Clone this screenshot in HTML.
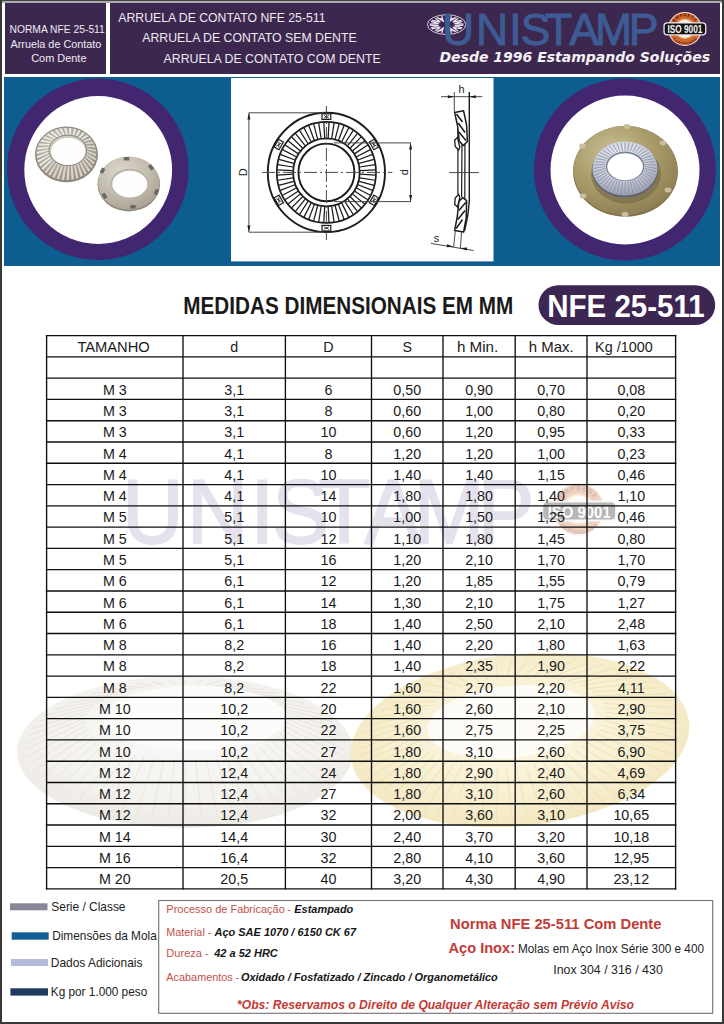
<!DOCTYPE html>
<html><head><meta charset="utf-8">
<style>
html,body{margin:0;padding:0;}
body{width:724px;height:1024px;position:relative;overflow:hidden;background:#fff;font-family:"Liberation Sans",Arial,sans-serif;}
.abs{position:absolute;}
.tbl line{stroke:#0e0e0e;stroke-width:1.35;}
.tbl text{font-family:"Liberation Sans",Arial,sans-serif;font-size:14.3px;fill:#1a1a1a;text-anchor:middle;}
</style></head><body>
<div class="abs" style="left:0;top:0;width:724px;height:1.1px;background:#47473f"></div>
<div class="abs" style="left:0;top:1.1px;width:724px;height:1.9px;background:#aca9b1"></div>
<div class="abs" style="left:0;top:0;width:1.6px;height:1024px;background:#383838"></div>
<div class="abs" style="left:722.4px;top:0;width:1.6px;height:1024px;background:#383838"></div>
<div class="abs" style="left:0;top:1022px;width:724px;height:2px;background:#383838"></div>
<div class="abs" style="left:5.2px;top:2.95px;width:100.8px;height:71.25px;background:#3c284e"></div>
<div class="abs" style="left:109.8px;top:2.95px;width:610.2px;height:71.25px;background:#3c284e"></div>
<div class="abs" style="left:4px;top:77px;width:716px;height:188.6px;background:#0e5d91"></div>
<svg class="abs" style="left:0;top:0" width="724" height="270" viewBox="0 0 724 270">

<circle cx="97.8" cy="169.3" r="90.8" fill="#432670"/>
<circle cx="98.2" cy="170" r="73.9" fill="#ffffff"/>
<circle cx="624.9" cy="169.4" r="91" fill="#432670"/>
<circle cx="625" cy="170" r="74.5" fill="#ffffff"/>
<defs>
<radialGradient id="silv" cx="0.4" cy="0.35" r="0.8">
<stop offset="0" stop-color="#c9c4ba"/><stop offset="0.55" stop-color="#aaa498"/><stop offset="0.85" stop-color="#938d81"/><stop offset="1" stop-color="#7a746a"/></radialGradient>
<radialGradient id="silv2" cx="0.4" cy="0.3" r="0.85">
<stop offset="0" stop-color="#ddd8ce"/><stop offset="0.5" stop-color="#c2bcaf"/><stop offset="0.85" stop-color="#a9a295"/><stop offset="1" stop-color="#8a8376"/></radialGradient>
<radialGradient id="gold" cx="0.38" cy="0.32" r="0.85">
<stop offset="0" stop-color="#cdc29c"/><stop offset="0.45" stop-color="#aa9c6a"/><stop offset="0.8" stop-color="#918256"/><stop offset="1" stop-color="#706440"/></radialGradient>
<radialGradient id="zinc" cx="0.45" cy="0.3" r="0.8">
<stop offset="0" stop-color="#f1f2f7"/><stop offset="0.5" stop-color="#cdd1dd"/><stop offset="0.85" stop-color="#9ca2b4"/><stop offset="1" stop-color="#5f6476"/></radialGradient>
</defs>
<ellipse cx="66.5" cy="154.8" rx="31.3" ry="27.5" fill="#8a847a"/>
<ellipse cx="66.5" cy="154" rx="30.8" ry="27" fill="url(#silv)"/>
<polygon points="86.60,150.40 86.54,151.66 96.20,156.16 96.30,154.00" fill="#dedad3" opacity="0.92"/>
<polygon points="86.34,152.90 86.02,154.13 95.39,160.41 95.89,158.30" fill="#dedad3" opacity="0.92"/>
<polygon points="85.58,155.34 85.02,156.51 93.79,164.48 94.69,162.47" fill="#dedad3" opacity="0.92"/>
<polygon points="84.33,157.63 83.54,158.71 91.45,168.28 92.71,166.42" fill="#dedad3" opacity="0.92"/>
<polygon points="82.64,159.74 81.63,160.69 88.42,171.68 90.02,170.03" fill="#dedad3" opacity="0.92"/>
<polygon points="80.53,161.58 79.35,162.39 84.80,174.60 86.68,173.20" fill="#dedad3" opacity="0.92"/>
<polygon points="78.08,163.12 76.75,163.77 80.68,176.95 82.80,175.85" fill="#dedad3" opacity="0.92"/>
<polygon points="75.35,164.32 73.90,164.78 76.18,178.69 78.47,177.90" fill="#dedad3" opacity="0.92"/>
<polygon points="72.42,165.13 70.89,165.39 71.40,179.74 73.82,179.30" fill="#dedad3" opacity="0.92"/>
<polygon points="69.35,165.55 67.80,165.60 66.50,180.10 68.96,180.01" fill="#dedad3" opacity="0.92"/>
<polygon points="66.25,165.55 64.71,165.39 61.60,179.74 64.04,180.01" fill="#dedad3" opacity="0.92"/>
<polygon points="63.18,165.13 61.70,164.78 56.82,178.69 59.18,179.30" fill="#dedad3" opacity="0.92"/>
<polygon points="60.25,164.32 58.85,163.77 52.32,176.95 54.53,177.90" fill="#dedad3" opacity="0.92"/>
<polygon points="57.52,163.12 56.25,162.39 48.20,174.60 50.20,175.85" fill="#dedad3" opacity="0.92"/>
<polygon points="55.07,161.58 53.97,160.69 44.58,171.68 46.32,173.20" fill="#dedad3" opacity="0.92"/>
<polygon points="52.96,159.74 52.06,158.71 41.55,168.28 42.98,170.03" fill="#f2f0ec" opacity="0.92"/>
<polygon points="51.27,157.63 50.58,156.51 39.21,164.48 40.29,166.42" fill="#f2f0ec" opacity="0.92"/>
<polygon points="50.02,155.34 49.58,154.13 37.61,160.41 38.31,162.47" fill="#f2f0ec" opacity="0.92"/>
<polygon points="49.26,152.90 49.06,151.66 36.80,156.16 37.11,158.30" fill="#f2f0ec" opacity="0.92"/>
<polygon points="49.00,150.40 49.06,149.14 36.80,151.84 36.70,154.00" fill="#f2f0ec" opacity="0.92"/>
<polygon points="49.26,147.90 49.58,146.67 37.61,147.59 37.11,149.70" fill="#f2f0ec" opacity="0.92"/>
<polygon points="50.02,145.46 50.58,144.29 39.21,143.52 38.31,145.53" fill="#f2f0ec" opacity="0.92"/>
<polygon points="51.27,143.17 52.06,142.09 41.55,139.72 40.29,141.58" fill="#f2f0ec" opacity="0.92"/>
<polygon points="52.96,141.06 53.97,140.11 44.58,136.32 42.98,137.97" fill="#f2f0ec" opacity="0.92"/>
<polygon points="55.07,139.22 56.25,138.41 48.20,133.40 46.32,134.80" fill="#f2f0ec" opacity="0.92"/>
<polygon points="57.52,137.68 58.85,137.03 52.32,131.05 50.20,132.15" fill="#f2f0ec" opacity="0.92"/>
<polygon points="60.25,136.48 61.70,136.02 56.82,129.31 54.53,130.10" fill="#f2f0ec" opacity="0.92"/>
<polygon points="63.18,135.67 64.71,135.41 61.60,128.26 59.18,128.70" fill="#f2f0ec" opacity="0.92"/>
<polygon points="66.25,135.25 67.80,135.20 66.50,127.90 64.04,127.99" fill="#f2f0ec" opacity="0.92"/>
<polygon points="69.35,135.25 70.89,135.41 71.40,128.26 68.96,127.99" fill="#f2f0ec" opacity="0.92"/>
<polygon points="72.42,135.67 73.90,136.02 76.18,129.31 73.82,128.70" fill="#f2f0ec" opacity="0.92"/>
<polygon points="75.35,136.48 76.75,137.03 80.68,131.05 78.47,130.10" fill="#f2f0ec" opacity="0.92"/>
<polygon points="78.08,137.68 79.35,138.41 84.80,133.40 82.80,132.15" fill="#f2f0ec" opacity="0.92"/>
<polygon points="80.53,139.22 81.63,140.11 88.42,136.32 86.68,134.80" fill="#f2f0ec" opacity="0.92"/>
<polygon points="82.64,141.06 83.54,142.09 91.45,139.72 90.02,137.97" fill="#dedad3" opacity="0.92"/>
<polygon points="84.33,143.17 85.02,144.29 93.79,143.52 92.71,141.58" fill="#dedad3" opacity="0.92"/>
<polygon points="85.58,145.46 86.02,146.67 95.39,147.59 94.69,145.53" fill="#dedad3" opacity="0.92"/>
<polygon points="86.34,147.90 86.54,149.14 96.20,151.84 95.89,149.70" fill="#dedad3" opacity="0.92"/>
<ellipse cx="66.5" cy="154" rx="30.8" ry="27" fill="none" stroke="#8f897e" stroke-width="1"/>
<ellipse cx="67.8" cy="150.4" rx="18.8" ry="15.2" fill="#cfcac1" stroke="#8c867b" stroke-width="1"/>
<ellipse cx="68.2" cy="151.4" rx="17" ry="13.6" fill="#fefefe"/>
<ellipse cx="128.8" cy="184.2" rx="31.3" ry="27.2" fill="#8f897d"/>
<ellipse cx="128.8" cy="183.2" rx="30.8" ry="26.6" fill="url(#silv2)"/>
<g transform="translate(126.5,157.6) rotate(0)"><rect x="-2.8" y="-0.6" width="5.6" height="3.6" rx="0.8" fill="#6d685f"/></g>
<g transform="translate(152,166.5) rotate(50)"><rect x="-2.8" y="-0.6" width="5.6" height="3.6" rx="0.8" fill="#6d685f"/></g>
<g transform="translate(157.5,192.5) rotate(115)"><rect x="-2.8" y="-0.6" width="5.6" height="3.6" rx="0.8" fill="#6d685f"/></g>
<g transform="translate(133,208) rotate(180)"><rect x="-2.8" y="-0.6" width="5.6" height="3.6" rx="0.8" fill="#6d685f"/></g>
<g transform="translate(103.5,196.5) rotate(240)"><rect x="-2.8" y="-0.6" width="5.6" height="3.6" rx="0.8" fill="#6d685f"/></g>
<g transform="translate(101.5,170) rotate(300)"><rect x="-2.8" y="-0.6" width="5.6" height="3.6" rx="0.8" fill="#6d685f"/></g>
<ellipse cx="129.6" cy="183.4" rx="19" ry="14.6" fill="#b9b3a7"/>
<ellipse cx="129.8" cy="184.1" rx="17.6" ry="13.3" fill="#fefefe"/>
<ellipse cx="625.5" cy="171.4" rx="52.4" ry="45.4" fill="#7f7048"/>
<ellipse cx="625.5" cy="170.6" rx="51.8" ry="44.6" fill="url(#gold)"/>
<ellipse cx="627" cy="126.5" rx="3.4" ry="2.4" fill="#c9bf9e"/>
<ellipse cx="663" cy="143" rx="3.4" ry="2.4" fill="#c9bf9e"/>
<ellipse cx="668" cy="190" rx="3.4" ry="2.4" fill="#c9bf9e"/>
<ellipse cx="625" cy="214.5" rx="3.4" ry="2.4" fill="#c9bf9e"/>
<ellipse cx="583" cy="196" rx="3.4" ry="2.4" fill="#c9bf9e"/>
<ellipse cx="582.5" cy="146" rx="3.4" ry="2.4" fill="#c9bf9e"/>
<ellipse cx="626" cy="174" rx="35" ry="29.5" fill="#6e6244" opacity="0.55"/>
<ellipse cx="625" cy="169.7" rx="33" ry="27.8" fill="#5d6173"/>
<ellipse cx="625" cy="168.5" rx="32.5" ry="27.1" fill="url(#zinc)"/>
<line x1="645.10" y1="166.30" x2="656.30" y2="168.50" stroke="#8c92a6" stroke-width="0.9"/>
<line x1="644.93" y1="168.32" x2="656.03" y2="171.89" stroke="#8c92a6" stroke-width="0.9"/>
<line x1="644.42" y1="170.31" x2="655.23" y2="175.23" stroke="#8c92a6" stroke-width="0.9"/>
<line x1="643.58" y1="172.23" x2="653.92" y2="178.45" stroke="#8c92a6" stroke-width="0.9"/>
<line x1="642.42" y1="174.05" x2="652.11" y2="181.50" stroke="#8c92a6" stroke-width="0.9"/>
<line x1="640.97" y1="175.74" x2="649.83" y2="184.33" stroke="#8c92a6" stroke-width="0.9"/>
<line x1="639.24" y1="177.26" x2="647.13" y2="186.88" stroke="#8c92a6" stroke-width="0.9"/>
<line x1="637.28" y1="178.60" x2="644.05" y2="189.13" stroke="#8c92a6" stroke-width="0.9"/>
<line x1="635.10" y1="179.72" x2="640.65" y2="191.02" stroke="#8c92a6" stroke-width="0.9"/>
<line x1="632.75" y1="180.62" x2="636.98" y2="192.52" stroke="#8c92a6" stroke-width="0.9"/>
<line x1="630.28" y1="181.27" x2="633.10" y2="193.61" stroke="#8c92a6" stroke-width="0.9"/>
<line x1="627.71" y1="181.67" x2="629.09" y2="194.28" stroke="#8c92a6" stroke-width="0.9"/>
<line x1="625.10" y1="181.80" x2="625.00" y2="194.50" stroke="#8c92a6" stroke-width="0.9"/>
<line x1="622.49" y1="181.67" x2="620.91" y2="194.28" stroke="#8c92a6" stroke-width="0.9"/>
<line x1="619.92" y1="181.27" x2="616.90" y2="193.61" stroke="#8c92a6" stroke-width="0.9"/>
<line x1="617.45" y1="180.62" x2="613.02" y2="192.52" stroke="#8c92a6" stroke-width="0.9"/>
<line x1="615.10" y1="179.72" x2="609.35" y2="191.02" stroke="#8c92a6" stroke-width="0.9"/>
<line x1="612.92" y1="178.60" x2="605.95" y2="189.13" stroke="#8c92a6" stroke-width="0.9"/>
<line x1="610.96" y1="177.26" x2="602.87" y2="186.88" stroke="#8c92a6" stroke-width="0.9"/>
<line x1="609.23" y1="175.74" x2="600.17" y2="184.33" stroke="#8c92a6" stroke-width="0.9"/>
<line x1="607.78" y1="174.05" x2="597.89" y2="181.50" stroke="#8c92a6" stroke-width="0.9"/>
<line x1="606.62" y1="172.23" x2="596.08" y2="178.45" stroke="#8c92a6" stroke-width="0.9"/>
<line x1="605.78" y1="170.31" x2="594.77" y2="175.23" stroke="#8c92a6" stroke-width="0.9"/>
<line x1="605.27" y1="168.32" x2="593.97" y2="171.89" stroke="#8c92a6" stroke-width="0.9"/>
<line x1="605.10" y1="166.30" x2="593.70" y2="168.50" stroke="#8c92a6" stroke-width="0.9"/>
<line x1="605.27" y1="164.28" x2="593.97" y2="165.11" stroke="#8c92a6" stroke-width="0.9"/>
<line x1="605.78" y1="162.29" x2="594.77" y2="161.77" stroke="#8c92a6" stroke-width="0.9"/>
<line x1="606.62" y1="160.37" x2="596.08" y2="158.55" stroke="#8c92a6" stroke-width="0.9"/>
<line x1="607.78" y1="158.55" x2="597.89" y2="155.50" stroke="#8c92a6" stroke-width="0.9"/>
<line x1="609.23" y1="156.86" x2="600.17" y2="152.67" stroke="#8c92a6" stroke-width="0.9"/>
<line x1="610.96" y1="155.34" x2="602.87" y2="150.12" stroke="#8c92a6" stroke-width="0.9"/>
<line x1="612.92" y1="154.00" x2="605.95" y2="147.87" stroke="#8c92a6" stroke-width="0.9"/>
<line x1="615.10" y1="152.88" x2="609.35" y2="145.98" stroke="#8c92a6" stroke-width="0.9"/>
<line x1="617.45" y1="151.98" x2="613.02" y2="144.48" stroke="#8c92a6" stroke-width="0.9"/>
<line x1="619.92" y1="151.33" x2="616.90" y2="143.39" stroke="#8c92a6" stroke-width="0.9"/>
<line x1="622.49" y1="150.93" x2="620.91" y2="142.72" stroke="#8c92a6" stroke-width="0.9"/>
<line x1="625.10" y1="150.80" x2="625.00" y2="142.50" stroke="#8c92a6" stroke-width="0.9"/>
<line x1="627.71" y1="150.93" x2="629.09" y2="142.72" stroke="#8c92a6" stroke-width="0.9"/>
<line x1="630.28" y1="151.33" x2="633.10" y2="143.39" stroke="#8c92a6" stroke-width="0.9"/>
<line x1="632.75" y1="151.98" x2="636.98" y2="144.48" stroke="#8c92a6" stroke-width="0.9"/>
<line x1="635.10" y1="152.88" x2="640.65" y2="145.98" stroke="#8c92a6" stroke-width="0.9"/>
<line x1="637.28" y1="154.00" x2="644.05" y2="147.87" stroke="#8c92a6" stroke-width="0.9"/>
<line x1="639.24" y1="155.34" x2="647.13" y2="150.12" stroke="#8c92a6" stroke-width="0.9"/>
<line x1="640.97" y1="156.86" x2="649.83" y2="152.67" stroke="#8c92a6" stroke-width="0.9"/>
<line x1="642.42" y1="158.55" x2="652.11" y2="155.50" stroke="#8c92a6" stroke-width="0.9"/>
<line x1="643.58" y1="160.37" x2="653.92" y2="158.55" stroke="#8c92a6" stroke-width="0.9"/>
<line x1="644.42" y1="162.29" x2="655.23" y2="161.77" stroke="#8c92a6" stroke-width="0.9"/>
<line x1="644.93" y1="164.28" x2="656.03" y2="165.11" stroke="#8c92a6" stroke-width="0.9"/>
<ellipse cx="625.1" cy="166.3" rx="19.3" ry="14.8" fill="#7a8096"/>
<ellipse cx="625.1" cy="166.8" rx="17.8" ry="13.5" fill="#ffffff"/>
<rect x="231" y="78" width="262.5" height="183.4" fill="#fff"/>
<ellipse cx="326.4" cy="172.4" rx="58.6" ry="59.6" stroke="#1c1c1c" fill="none" stroke-width="1.9"/>
<ellipse cx="326.4" cy="172.4" rx="49.6" ry="50.5" stroke="#1c1c1c" fill="none" stroke-width="1.7"/>
<ellipse cx="326.4" cy="172.4" rx="33.3" ry="34" stroke="#1c1c1c" fill="none" stroke-width="1.8"/>
<ellipse cx="326.4" cy="172.4" rx="28" ry="28.8" stroke="#1c1c1c" fill="none" stroke-width="1.9"/>
<line x1="360.15" y1="174.21" x2="375.63" y2="175.03" stroke="#1c1c1c" stroke-width="1.25"/>
<line x1="359.78" y1="177.80" x2="375.09" y2="180.25" stroke="#1c1c1c" stroke-width="1.25"/>
<line x1="359.05" y1="181.33" x2="374.02" y2="185.39" stroke="#1c1c1c" stroke-width="1.25"/>
<line x1="357.96" y1="184.76" x2="372.43" y2="190.39" stroke="#1c1c1c" stroke-width="1.25"/>
<line x1="356.52" y1="188.06" x2="370.33" y2="195.19" stroke="#1c1c1c" stroke-width="1.25"/>
<line x1="354.75" y1="191.19" x2="367.75" y2="199.74" stroke="#1c1c1c" stroke-width="1.25"/>
<line x1="352.67" y1="194.11" x2="364.71" y2="203.99" stroke="#1c1c1c" stroke-width="1.25"/>
<line x1="350.30" y1="196.80" x2="361.26" y2="207.90" stroke="#1c1c1c" stroke-width="1.25"/>
<line x1="347.67" y1="199.21" x2="357.43" y2="211.41" stroke="#1c1c1c" stroke-width="1.25"/>
<line x1="344.81" y1="201.33" x2="353.25" y2="214.50" stroke="#1c1c1c" stroke-width="1.25"/>
<line x1="341.74" y1="203.14" x2="348.78" y2="217.13" stroke="#1c1c1c" stroke-width="1.25"/>
<line x1="338.51" y1="204.61" x2="344.07" y2="219.27" stroke="#1c1c1c" stroke-width="1.25"/>
<line x1="335.15" y1="205.72" x2="339.16" y2="220.89" stroke="#1c1c1c" stroke-width="1.25"/>
<line x1="331.69" y1="206.48" x2="334.11" y2="221.98" stroke="#1c1c1c" stroke-width="1.25"/>
<line x1="328.17" y1="206.85" x2="328.98" y2="222.53" stroke="#1c1c1c" stroke-width="1.25"/>
<line x1="324.63" y1="206.85" x2="323.82" y2="222.53" stroke="#1c1c1c" stroke-width="1.25"/>
<line x1="321.11" y1="206.48" x2="318.69" y2="221.98" stroke="#1c1c1c" stroke-width="1.25"/>
<line x1="317.65" y1="205.72" x2="313.64" y2="220.89" stroke="#1c1c1c" stroke-width="1.25"/>
<line x1="314.29" y1="204.61" x2="308.73" y2="219.27" stroke="#1c1c1c" stroke-width="1.25"/>
<line x1="311.06" y1="203.14" x2="304.02" y2="217.13" stroke="#1c1c1c" stroke-width="1.25"/>
<line x1="307.99" y1="201.33" x2="299.55" y2="214.50" stroke="#1c1c1c" stroke-width="1.25"/>
<line x1="305.13" y1="199.21" x2="295.37" y2="211.41" stroke="#1c1c1c" stroke-width="1.25"/>
<line x1="302.50" y1="196.80" x2="291.54" y2="207.90" stroke="#1c1c1c" stroke-width="1.25"/>
<line x1="300.13" y1="194.11" x2="288.09" y2="203.99" stroke="#1c1c1c" stroke-width="1.25"/>
<line x1="298.05" y1="191.19" x2="285.05" y2="199.74" stroke="#1c1c1c" stroke-width="1.25"/>
<line x1="296.28" y1="188.06" x2="282.47" y2="195.19" stroke="#1c1c1c" stroke-width="1.25"/>
<line x1="294.84" y1="184.76" x2="280.37" y2="190.39" stroke="#1c1c1c" stroke-width="1.25"/>
<line x1="293.75" y1="181.33" x2="278.78" y2="185.39" stroke="#1c1c1c" stroke-width="1.25"/>
<line x1="293.02" y1="177.80" x2="277.71" y2="180.25" stroke="#1c1c1c" stroke-width="1.25"/>
<line x1="292.65" y1="174.21" x2="277.17" y2="175.03" stroke="#1c1c1c" stroke-width="1.25"/>
<line x1="292.65" y1="170.59" x2="277.17" y2="169.77" stroke="#1c1c1c" stroke-width="1.25"/>
<line x1="293.02" y1="167.00" x2="277.71" y2="164.55" stroke="#1c1c1c" stroke-width="1.25"/>
<line x1="293.75" y1="163.47" x2="278.78" y2="159.41" stroke="#1c1c1c" stroke-width="1.25"/>
<line x1="294.84" y1="160.04" x2="280.37" y2="154.41" stroke="#1c1c1c" stroke-width="1.25"/>
<line x1="296.28" y1="156.74" x2="282.47" y2="149.61" stroke="#1c1c1c" stroke-width="1.25"/>
<line x1="298.05" y1="153.61" x2="285.05" y2="145.06" stroke="#1c1c1c" stroke-width="1.25"/>
<line x1="300.13" y1="150.69" x2="288.09" y2="140.81" stroke="#1c1c1c" stroke-width="1.25"/>
<line x1="302.50" y1="148.00" x2="291.54" y2="136.90" stroke="#1c1c1c" stroke-width="1.25"/>
<line x1="305.13" y1="145.59" x2="295.37" y2="133.39" stroke="#1c1c1c" stroke-width="1.25"/>
<line x1="307.99" y1="143.47" x2="299.55" y2="130.30" stroke="#1c1c1c" stroke-width="1.25"/>
<line x1="311.06" y1="141.66" x2="304.02" y2="127.67" stroke="#1c1c1c" stroke-width="1.25"/>
<line x1="314.29" y1="140.19" x2="308.73" y2="125.53" stroke="#1c1c1c" stroke-width="1.25"/>
<line x1="317.65" y1="139.08" x2="313.64" y2="123.91" stroke="#1c1c1c" stroke-width="1.25"/>
<line x1="321.11" y1="138.32" x2="318.69" y2="122.82" stroke="#1c1c1c" stroke-width="1.25"/>
<line x1="324.63" y1="137.95" x2="323.82" y2="122.27" stroke="#1c1c1c" stroke-width="1.25"/>
<line x1="328.17" y1="137.95" x2="328.98" y2="122.27" stroke="#1c1c1c" stroke-width="1.25"/>
<line x1="331.69" y1="138.32" x2="334.11" y2="122.82" stroke="#1c1c1c" stroke-width="1.25"/>
<line x1="335.15" y1="139.08" x2="339.16" y2="123.91" stroke="#1c1c1c" stroke-width="1.25"/>
<line x1="338.51" y1="140.19" x2="344.07" y2="125.53" stroke="#1c1c1c" stroke-width="1.25"/>
<line x1="341.74" y1="141.66" x2="348.78" y2="127.67" stroke="#1c1c1c" stroke-width="1.25"/>
<line x1="344.81" y1="143.47" x2="353.25" y2="130.30" stroke="#1c1c1c" stroke-width="1.25"/>
<line x1="347.67" y1="145.59" x2="357.43" y2="133.39" stroke="#1c1c1c" stroke-width="1.25"/>
<line x1="350.30" y1="148.00" x2="361.26" y2="136.90" stroke="#1c1c1c" stroke-width="1.25"/>
<line x1="352.67" y1="150.69" x2="364.71" y2="140.81" stroke="#1c1c1c" stroke-width="1.25"/>
<line x1="354.75" y1="153.61" x2="367.75" y2="145.06" stroke="#1c1c1c" stroke-width="1.25"/>
<line x1="356.52" y1="156.74" x2="370.33" y2="149.61" stroke="#1c1c1c" stroke-width="1.25"/>
<line x1="357.96" y1="160.04" x2="372.43" y2="154.41" stroke="#1c1c1c" stroke-width="1.25"/>
<line x1="359.05" y1="163.47" x2="374.02" y2="159.41" stroke="#1c1c1c" stroke-width="1.25"/>
<line x1="359.78" y1="167.00" x2="375.09" y2="164.55" stroke="#1c1c1c" stroke-width="1.25"/>
<line x1="360.15" y1="170.59" x2="375.63" y2="169.77" stroke="#1c1c1c" stroke-width="1.25"/>
<g transform="translate(326.40,116.40) rotate(0.00)"><rect x="-4.4" y="-2.6" width="8.8" height="5.6" fill="#fff" stroke="#1c1c1c" stroke-width="1.2"/><path d="M-2.6,-1.2 L0,0.6 L2.6,-1.2 M-2.6,1.8 L0,0.2 L2.6,1.8" stroke="#1c1c1c" stroke-width="0.8" fill="none"/></g>
<g transform="translate(326.40,228.40) rotate(-180.00)"><rect x="-4.4" y="-2.6" width="8.8" height="5.6" fill="#fff" stroke="#1c1c1c" stroke-width="1.2"/><path d="M-2.6,-1.2 L0,0.6 L2.6,-1.2 M-2.6,1.8 L0,0.2 L2.6,1.8" stroke="#1c1c1c" stroke-width="0.8" fill="none"/></g>
<g transform="translate(374.20,144.40) rotate(60.00)"><rect x="-4.4" y="-2.6" width="8.8" height="5.6" fill="#fff" stroke="#1c1c1c" stroke-width="1.2"/><path d="M-2.6,-1.2 L0,0.6 L2.6,-1.2 M-2.6,1.8 L0,0.2 L2.6,1.8" stroke="#1c1c1c" stroke-width="0.8" fill="none"/></g>
<g transform="translate(278.60,144.40) rotate(-60.00)"><rect x="-4.4" y="-2.6" width="8.8" height="5.6" fill="#fff" stroke="#1c1c1c" stroke-width="1.2"/><path d="M-2.6,-1.2 L0,0.6 L2.6,-1.2 M-2.6,1.8 L0,0.2 L2.6,1.8" stroke="#1c1c1c" stroke-width="0.8" fill="none"/></g>
<g transform="translate(278.60,200.40) rotate(-120.00)"><rect x="-4.4" y="-2.6" width="8.8" height="5.6" fill="#fff" stroke="#1c1c1c" stroke-width="1.2"/><path d="M-2.6,-1.2 L0,0.6 L2.6,-1.2 M-2.6,1.8 L0,0.2 L2.6,1.8" stroke="#1c1c1c" stroke-width="0.8" fill="none"/></g>
<g transform="translate(374.20,200.40) rotate(-240.00)"><rect x="-4.4" y="-2.6" width="8.8" height="5.6" fill="#fff" stroke="#1c1c1c" stroke-width="1.2"/><path d="M-2.6,-1.2 L0,0.6 L2.6,-1.2 M-2.6,1.8 L0,0.2 L2.6,1.8" stroke="#1c1c1c" stroke-width="0.8" fill="none"/></g>
<line x1="262" y1="172.4" x2="392.4" y2="172.4" stroke="#4a4a4a" stroke-width="1" stroke-dasharray="13 3 2 3"/>
<line x1="326.4" y1="106" x2="326.4" y2="240" stroke="#4a4a4a" stroke-width="1" stroke-dasharray="13 3 2 3"/>
<line x1="248.9" y1="112.8" x2="324" y2="112.8" stroke="#4a4a4a" stroke-width="1"/>
<line x1="248.9" y1="232.2" x2="324" y2="232.2" stroke="#4a4a4a" stroke-width="1"/>
<line x1="248.9" y1="112.8" x2="248.9" y2="232.2" stroke="#4a4a4a" stroke-width="1"/>
<path d="M248.9,113 l-1.5,6.5 h3z M248.9,232 l-1.5,-6.5 h3z" fill="#1c1c1c"/>
<text x="0" y="0" transform="translate(247.3,172.4) rotate(-90)" font-size="11" fill="#1c1c1c" text-anchor="middle" font-family="Liberation Sans, sans-serif">D</text>
<line x1="334" y1="142.9" x2="411" y2="142.9" stroke="#4a4a4a" stroke-width="1"/>
<line x1="334" y1="201.6" x2="411" y2="201.6" stroke="#4a4a4a" stroke-width="1"/>
<line x1="410.6" y1="142.9" x2="410.6" y2="201.6" stroke="#4a4a4a" stroke-width="1"/>
<path d="M410.6,143.1 l-1.5,6.5 h3z M410.6,201.4 l-1.5,-6.5 h3z" fill="#1c1c1c"/>
<text x="0" y="0" transform="translate(407.8,172.3) rotate(-90)" font-size="11" fill="#1c1c1c" text-anchor="middle" font-family="Liberation Sans, sans-serif">d</text>
<line x1="441" y1="96.7" x2="482.4" y2="96.7" stroke="#4a4a4a" stroke-width="1"/>
<path d="M454.3,96.7 l-6.5,-1.5 v3z M469.3,96.7 l6.5,-1.5 v3z" fill="#1c1c1c"/>
<line x1="454.3" y1="92" x2="454.3" y2="112" stroke="#4a4a4a" stroke-width="1"/>
<text x="461.5" y="93.2" font-size="11" fill="#1c1c1c" text-anchor="middle" font-family="Liberation Sans, sans-serif">h</text>
<path d="M469.3,92 L469.3,201.5 Q468.5,216 464.5,231" stroke="#1c1c1c" stroke-width="1.4" fill="none"/>
<path d="M465,121 L464.8,200" stroke="#1c1c1c" stroke-width="1.2" fill="none"/>
<path d="M462,143 L461.6,197" stroke="#1c1c1c" stroke-width="1.2" fill="none"/>
<path d="M457.9,126 L457.9,194" stroke="#1c1c1c" stroke-width="1.2" fill="none"/>
<path d="M454.6,112.4 L463.6,110.8 L466.6,125 L467.4,141.5 L463.2,145.6 L459.2,141 L457.6,126 Z" stroke="#1c1c1c" stroke-width="1.5" fill="#fff" stroke-linejoin="round"/>
<line x1="456.5" y1="114" x2="462.5" y2="122" stroke="#1c1c1c" stroke-width="1.5"/>
<line x1="458.3" y1="123" x2="465" y2="132.5" stroke="#1c1c1c" stroke-width="1.5"/>
<line x1="458.8" y1="132" x2="466" y2="140.5" stroke="#1c1c1c" stroke-width="1.5"/>
<path d="M454.6,230.6 L463.6,232 L466.2,218 L466.6,200.6 L462.8,197.6 L458.8,201.4 L457.4,216 Z" stroke="#1c1c1c" stroke-width="1.5" fill="#fff" stroke-linejoin="round"/>
<line x1="456.2" y1="228.5" x2="462.5" y2="219.5" stroke="#1c1c1c" stroke-width="1.5"/>
<line x1="457.8" y1="219.5" x2="465" y2="210.5" stroke="#1c1c1c" stroke-width="1.5"/>
<line x1="458.8" y1="210.5" x2="466" y2="202.3" stroke="#1c1c1c" stroke-width="1.5"/>
<path d="M454.7,140 L457.5,137.5 L459.8,147 L458.6,150 L455.2,146.5 Z" stroke="#1c1c1c" stroke-width="1.3" fill="#fff"/>
<path d="M454.7,204.5 L457.5,207 L459.8,197.5 L458.6,194.3 L455.2,198 Z" stroke="#1c1c1c" stroke-width="1.3" fill="#fff"/>
<line x1="449.2" y1="172.6" x2="478.9" y2="172.6" stroke="#4a4a4a" stroke-width="1"/>
<line x1="455.3" y1="231" x2="453.6" y2="247" stroke="#4a4a4a" stroke-width="1"/>
<line x1="461.6" y1="232" x2="460.3" y2="249" stroke="#4a4a4a" stroke-width="1"/>
<line x1="430.8" y1="243.4" x2="473.5" y2="250.5" stroke="#4a4a4a" stroke-width="1"/>
<path d="M453.6,246.8 l-6.4,-2.6 l-0.5,3z M460.3,247.9 l6.4,2.6 l0.5,-3z" fill="#1c1c1c"/>
<text x="436.6" y="242.2" font-size="11" fill="#1c1c1c" text-anchor="middle" font-family="Liberation Sans, sans-serif">s</text>
</svg>
<svg class="abs" style="left:0;top:0" width="724" height="1024" viewBox="0 0 724 1024">
<text x="9.50" y="33.30" font-family="Liberation Sans, Arial, sans-serif" font-size="10.5" fill="#efe9f3" textLength="95.30" lengthAdjust="spacingAndGlyphs">NORMA NFE 25-511</text>
<text x="10.50" y="48.20" font-family="Liberation Sans, Arial, sans-serif" font-size="10.7" fill="#efe9f3" textLength="90.80" lengthAdjust="spacingAndGlyphs">Arruela de Contato</text>
<text x="31.20" y="62.00" font-family="Liberation Sans, Arial, sans-serif" font-size="10.7" fill="#efe9f3" textLength="55.30" lengthAdjust="spacingAndGlyphs">Com Dente</text>
<text x="118.30" y="22.20" font-family="Liberation Sans, Arial, sans-serif" font-size="12.8" fill="#efe9f3" textLength="207.20" lengthAdjust="spacingAndGlyphs">ARRUELA DE CONTATO NFE 25-511</text>
<text x="142.30" y="42.20" font-family="Liberation Sans, Arial, sans-serif" font-size="12.8" fill="#efe9f3" textLength="214.40" lengthAdjust="spacingAndGlyphs">ARRUELA DE CONTATO SEM DENTE</text>
<text x="163.60" y="63.00" font-family="Liberation Sans, Arial, sans-serif" font-size="12.8" fill="#efe9f3" textLength="217.10" lengthAdjust="spacingAndGlyphs">ARRUELA DE CONTATO COM DENTE</text>
<ellipse cx="446.6" cy="24.6" rx="19.2" ry="9.9" fill="#3a2450" stroke="#d9c9dc" stroke-width="1"/>
<path d="M463.46,25.16 L454.46,25.53 L462.26,27.87" fill="none" stroke="#ede3ef" stroke-width="1.3" stroke-linejoin="miter"/>
<path d="M461.32,28.88 L452.90,27.19 L457.96,31.05" fill="none" stroke="#ede3ef" stroke-width="1.3" stroke-linejoin="miter"/>
<path d="M456.26,31.75 L450.10,28.35 L451.41,32.95" fill="none" stroke="#ede3ef" stroke-width="1.3" stroke-linejoin="miter"/>
<path d="M441.79,32.95 L443.10,28.35 L436.94,31.75" fill="none" stroke="#ede3ef" stroke-width="1.3" stroke-linejoin="miter"/>
<path d="M435.24,31.05 L440.30,27.19 L431.88,28.88" fill="none" stroke="#ede3ef" stroke-width="1.3" stroke-linejoin="miter"/>
<path d="M430.94,27.87 L438.74,25.53 L429.74,25.16" fill="none" stroke="#ede3ef" stroke-width="1.3" stroke-linejoin="miter"/>
<path d="M429.74,24.04 L438.74,23.67 L430.94,21.33" fill="none" stroke="#ede3ef" stroke-width="1.3" stroke-linejoin="miter"/>
<path d="M431.88,20.32 L440.30,22.01 L435.24,18.15" fill="none" stroke="#ede3ef" stroke-width="1.3" stroke-linejoin="miter"/>
<path d="M436.94,17.45 L443.10,20.85 L441.79,16.25" fill="none" stroke="#ede3ef" stroke-width="1.3" stroke-linejoin="miter"/>
<path d="M451.41,16.25 L450.10,20.85 L456.26,17.45" fill="none" stroke="#ede3ef" stroke-width="1.3" stroke-linejoin="miter"/>
<path d="M457.96,18.15 L452.90,22.01 L461.32,20.32" fill="none" stroke="#ede3ef" stroke-width="1.3" stroke-linejoin="miter"/>
<path d="M462.26,21.33 L454.46,23.67 L463.46,24.04" fill="none" stroke="#ede3ef" stroke-width="1.3" stroke-linejoin="miter"/>
<path d="M443.80,21.80 L441.40,18.80 L438.10,18.20" fill="none" stroke="#ede3ef" stroke-width="1.2"/>
<path d="M443.80,27.40 L441.40,30.40 L438.10,31.00" fill="none" stroke="#ede3ef" stroke-width="1.2"/>
<path d="M449.40,21.80 L451.80,18.80 L455.10,18.20" fill="none" stroke="#ede3ef" stroke-width="1.2"/>
<path d="M449.40,27.40 L451.80,30.40 L455.10,31.00" fill="none" stroke="#ede3ef" stroke-width="1.2"/>
<text x="441.95 475.95 509.3 520.65 544.9 569.15 594.95 628.65" y="45.4" font-family="Liberation Sans, Arial, sans-serif" font-size="44.5" fill="#3d5b95" stroke="#3d5b95" stroke-width="0.9">UNISTAMP</text>
<g>
<circle cx="684.90" cy="28.90" r="17.00" fill="#f7e0cf"/>
<circle cx="684.90" cy="28.90" r="15.90" fill="#cd6a2e"/>
<circle cx="684.90" cy="28.90" r="10.20" fill="#eeb98c"/>
<circle cx="684.90" cy="28.90" r="8.80" fill="#fdf5ec"/>
<defs><path id="isot1" d="M672.50,28.90 A12.40,12.40 0 0 1 697.30,28.90"/><path id="isob1" d="M671.30,28.90 A13.60,13.60 0 0 0 698.50,28.90"/></defs>
<text font-size="4.30" font-weight="bold" fill="#5e1708" font-family="Liberation Sans, sans-serif" letter-spacing="0.50"><textPath href="#isot1" startOffset="50%" text-anchor="middle">EMPRESA</textPath></text>
<text font-size="3.50" font-weight="bold" fill="#5e1708" font-family="Liberation Sans, sans-serif"><textPath href="#isob1" startOffset="50%" text-anchor="middle" dominant-baseline="hanging">CERTIFICADA</textPath></text>
<rect x="663.40" y="22.30" width="43.00" height="13.20" rx="3.80" fill="#ece6f0"/>
<rect x="664.70" y="23.60" width="40.40" height="10.60" rx="2.60" fill="#131313"/>
<text x="684.90" y="32.60" font-size="10.40" font-weight="bold" fill="#f6f6f6" text-anchor="middle" font-family="Liberation Sans, sans-serif" textLength="35.00" lengthAdjust="spacingAndGlyphs">ISO 9001</text>
</g>
<text x="439.50" y="62.30" font-family="DejaVu Sans, Verdana, sans-serif" font-size="14.6" fill="#f4f0f6" font-weight="bold" font-style="italic" textLength="270.50" lengthAdjust="spacingAndGlyphs">Desde 1996 Estampando Soluções</text>
<defs>
<radialGradient id="wmg" cx="0.5" cy="0.45" r="0.6">
<stop offset="0" stop-color="#fdf9ea"/><stop offset="0.6" stop-color="#f8f0d2"/><stop offset="1" stop-color="#f3e6bd"/></radialGradient>
<radialGradient id="wms" cx="0.5" cy="0.4" r="0.6">
<stop offset="0" stop-color="#faf9f7"/><stop offset="0.7" stop-color="#f3f1ed"/><stop offset="1" stop-color="#ebe8e2"/></radialGradient>
</defs>
<text transform="translate(-719.7,451.34) scale(1.905,2.03)" x="441.95 475.95 509.3 520.65 544.9 569.15 594.95 628.65" y="45.4" font-family="Liberation Sans, Arial, sans-serif" font-size="44.5" fill="#e5e2ee" stroke="#e5e2ee" stroke-width="0.9">UNISTAMP</text>
<g opacity="0.3">
<circle cx="578.5" cy="509.2" r="26.6" fill="#f7e0cf"/>
<circle cx="578.5" cy="509.2" r="24.9" fill="#cd6a2e"/>
<circle cx="578.5" cy="509.2" r="15.5" fill="#eeb98c"/>
<circle cx="578.5" cy="509.2" r="13.5" fill="#fdf5ec"/>
<defs><path id="wmt" d="M559.5,509.2 A19,19 0 0 1 597.5,509.2"/><path id="wmb" d="M557.5,509.2 A21,21 0 0 0 599.5,509.2"/></defs>
<text font-size="6.6" font-weight="bold" fill="#5e1708" font-family="Liberation Sans, sans-serif" letter-spacing="0.8"><textPath href="#wmt" startOffset="50%" text-anchor="middle">EMPRESA</textPath></text>
<text font-size="5.4" font-weight="bold" fill="#5e1708" font-family="Liberation Sans, sans-serif"><textPath href="#wmb" startOffset="50%" text-anchor="middle" dominant-baseline="hanging">CERTIFICADA</textPath></text>
<rect x="541.3" y="500.5" width="75.8" height="21" rx="5.5" fill="#ece6f0"/>
<rect x="543.3" y="502.5" width="71.8" height="17" rx="4" fill="#131313"/>
<text x="579.2" y="517.6" font-size="17" font-weight="bold" fill="#f6f6f6" text-anchor="middle" font-family="Liberation Sans, sans-serif" textLength="63" lengthAdjust="spacingAndGlyphs">ISO 9001</text>
</g>
<g opacity="0.9">
<ellipse cx="185" cy="752" rx="168" ry="76" fill="url(#wms)"/>
<line x1="285.0" y1="722.0" x2="345.0" y2="750.0" stroke="#e6e2db" stroke-width="1"/>
<line x1="284.5" y1="726.0" x2="344.1" y2="757.3" stroke="#e6e2db" stroke-width="1"/>
<line x1="282.8" y1="729.9" x2="341.5" y2="764.6" stroke="#e6e2db" stroke-width="1"/>
<line x1="280.1" y1="733.7" x2="337.2" y2="771.6" stroke="#e6e2db" stroke-width="1"/>
<line x1="276.4" y1="737.5" x2="331.2" y2="778.5" stroke="#e6e2db" stroke-width="1"/>
<line x1="271.6" y1="741.0" x2="323.6" y2="785.0" stroke="#e6e2db" stroke-width="1"/>
<line x1="265.9" y1="744.3" x2="314.4" y2="791.1" stroke="#e6e2db" stroke-width="1"/>
<line x1="259.3" y1="747.4" x2="303.9" y2="796.8" stroke="#e6e2db" stroke-width="1"/>
<line x1="251.9" y1="750.2" x2="292.1" y2="802.0" stroke="#e6e2db" stroke-width="1"/>
<line x1="243.8" y1="752.7" x2="279.0" y2="806.6" stroke="#e6e2db" stroke-width="1"/>
<line x1="235.0" y1="754.9" x2="265.0" y2="810.6" stroke="#e6e2db" stroke-width="1"/>
<line x1="225.7" y1="756.7" x2="250.1" y2="813.9" stroke="#e6e2db" stroke-width="1"/>
<line x1="215.9" y1="758.1" x2="234.4" y2="816.6" stroke="#e6e2db" stroke-width="1"/>
<line x1="205.8" y1="759.2" x2="218.3" y2="818.5" stroke="#e6e2db" stroke-width="1"/>
<line x1="195.5" y1="759.8" x2="201.7" y2="819.6" stroke="#e6e2db" stroke-width="1"/>
<line x1="185.0" y1="760.0" x2="185.0" y2="820.0" stroke="#e6e2db" stroke-width="1"/>
<line x1="174.5" y1="759.8" x2="168.3" y2="819.6" stroke="#e6e2db" stroke-width="1"/>
<line x1="164.2" y1="759.2" x2="151.7" y2="818.5" stroke="#e6e2db" stroke-width="1"/>
<line x1="154.1" y1="758.1" x2="135.6" y2="816.6" stroke="#e6e2db" stroke-width="1"/>
<line x1="144.3" y1="756.7" x2="119.9" y2="813.9" stroke="#e6e2db" stroke-width="1"/>
<line x1="135.0" y1="754.9" x2="105.0" y2="810.6" stroke="#e6e2db" stroke-width="1"/>
<line x1="126.2" y1="752.7" x2="91.0" y2="806.6" stroke="#e6e2db" stroke-width="1"/>
<line x1="118.1" y1="750.2" x2="77.9" y2="802.0" stroke="#e6e2db" stroke-width="1"/>
<line x1="110.7" y1="747.4" x2="66.1" y2="796.8" stroke="#e6e2db" stroke-width="1"/>
<line x1="104.1" y1="744.3" x2="55.6" y2="791.1" stroke="#e6e2db" stroke-width="1"/>
<line x1="98.4" y1="741.0" x2="46.4" y2="785.0" stroke="#e6e2db" stroke-width="1"/>
<line x1="93.6" y1="737.5" x2="38.8" y2="778.5" stroke="#e6e2db" stroke-width="1"/>
<line x1="89.9" y1="733.7" x2="32.8" y2="771.6" stroke="#e6e2db" stroke-width="1"/>
<line x1="87.2" y1="729.9" x2="28.5" y2="764.6" stroke="#e6e2db" stroke-width="1"/>
<line x1="85.5" y1="726.0" x2="25.9" y2="757.3" stroke="#e6e2db" stroke-width="1"/>
<line x1="85.0" y1="722.0" x2="25.0" y2="750.0" stroke="#e6e2db" stroke-width="1"/>
<line x1="85.5" y1="718.0" x2="25.9" y2="742.7" stroke="#e6e2db" stroke-width="1"/>
<line x1="87.2" y1="714.1" x2="28.5" y2="735.4" stroke="#e6e2db" stroke-width="1"/>
<line x1="89.9" y1="710.3" x2="32.8" y2="728.4" stroke="#e6e2db" stroke-width="1"/>
<line x1="93.6" y1="706.5" x2="38.8" y2="721.5" stroke="#e6e2db" stroke-width="1"/>
<line x1="98.4" y1="703.0" x2="46.4" y2="715.0" stroke="#e6e2db" stroke-width="1"/>
<line x1="104.1" y1="699.7" x2="55.6" y2="708.9" stroke="#e6e2db" stroke-width="1"/>
<line x1="110.7" y1="696.6" x2="66.1" y2="703.2" stroke="#e6e2db" stroke-width="1"/>
<line x1="118.1" y1="693.8" x2="77.9" y2="698.0" stroke="#e6e2db" stroke-width="1"/>
<line x1="126.2" y1="691.3" x2="91.0" y2="693.4" stroke="#e6e2db" stroke-width="1"/>
<line x1="135.0" y1="689.1" x2="105.0" y2="689.4" stroke="#e6e2db" stroke-width="1"/>
<line x1="144.3" y1="687.3" x2="119.9" y2="686.1" stroke="#e6e2db" stroke-width="1"/>
<line x1="154.1" y1="685.9" x2="135.6" y2="683.4" stroke="#e6e2db" stroke-width="1"/>
<line x1="164.2" y1="684.8" x2="151.7" y2="681.5" stroke="#e6e2db" stroke-width="1"/>
<line x1="174.5" y1="684.2" x2="168.3" y2="680.4" stroke="#e6e2db" stroke-width="1"/>
<line x1="185.0" y1="684.0" x2="185.0" y2="680.0" stroke="#e6e2db" stroke-width="1"/>
<line x1="195.5" y1="684.2" x2="201.7" y2="680.4" stroke="#e6e2db" stroke-width="1"/>
<line x1="205.8" y1="684.8" x2="218.3" y2="681.5" stroke="#e6e2db" stroke-width="1"/>
<line x1="215.9" y1="685.9" x2="234.4" y2="683.4" stroke="#e6e2db" stroke-width="1"/>
<line x1="225.7" y1="687.3" x2="250.1" y2="686.1" stroke="#e6e2db" stroke-width="1"/>
<line x1="235.0" y1="689.1" x2="265.0" y2="689.4" stroke="#e6e2db" stroke-width="1"/>
<line x1="243.8" y1="691.3" x2="279.0" y2="693.4" stroke="#e6e2db" stroke-width="1"/>
<line x1="251.9" y1="693.8" x2="292.1" y2="698.0" stroke="#e6e2db" stroke-width="1"/>
<line x1="259.3" y1="696.6" x2="303.9" y2="703.2" stroke="#e6e2db" stroke-width="1"/>
<line x1="265.9" y1="699.7" x2="314.4" y2="708.9" stroke="#e6e2db" stroke-width="1"/>
<line x1="271.6" y1="703.0" x2="323.6" y2="715.0" stroke="#e6e2db" stroke-width="1"/>
<line x1="276.4" y1="706.5" x2="331.2" y2="721.5" stroke="#e6e2db" stroke-width="1"/>
<line x1="280.1" y1="710.3" x2="337.2" y2="728.4" stroke="#e6e2db" stroke-width="1"/>
<line x1="282.8" y1="714.1" x2="341.5" y2="735.4" stroke="#e6e2db" stroke-width="1"/>
<line x1="284.5" y1="718.0" x2="344.1" y2="742.7" stroke="#e6e2db" stroke-width="1"/>
<ellipse cx="195" cy="718" rx="92" ry="32" fill="#fcfcfb"/>
</g>
<g transform="rotate(-6 520 740)">
<ellipse cx="520" cy="740" rx="170" ry="86" fill="url(#wmg)"/>
<line x1="608.0" y1="721.0" x2="683.0" y2="740.0" stroke="#ede2b8" stroke-width="1"/>
<line x1="607.5" y1="725.4" x2="682.2" y2="747.8" stroke="#ede2b8" stroke-width="1"/>
<line x1="606.2" y1="729.8" x2="679.9" y2="755.6" stroke="#ede2b8" stroke-width="1"/>
<line x1="603.9" y1="734.1" x2="676.0" y2="763.2" stroke="#ede2b8" stroke-width="1"/>
<line x1="600.8" y1="738.2" x2="670.6" y2="770.6" stroke="#ede2b8" stroke-width="1"/>
<line x1="596.8" y1="742.2" x2="663.8" y2="777.7" stroke="#ede2b8" stroke-width="1"/>
<line x1="592.0" y1="746.0" x2="655.5" y2="784.4" stroke="#ede2b8" stroke-width="1"/>
<line x1="586.4" y1="749.5" x2="646.0" y2="790.8" stroke="#ede2b8" stroke-width="1"/>
<line x1="580.2" y1="752.8" x2="635.3" y2="796.6" stroke="#ede2b8" stroke-width="1"/>
<line x1="573.3" y1="755.8" x2="623.4" y2="801.8" stroke="#ede2b8" stroke-width="1"/>
<line x1="565.8" y1="758.4" x2="610.6" y2="806.5" stroke="#ede2b8" stroke-width="1"/>
<line x1="557.8" y1="760.7" x2="596.8" y2="810.6" stroke="#ede2b8" stroke-width="1"/>
<line x1="549.4" y1="762.6" x2="582.4" y2="813.9" stroke="#ede2b8" stroke-width="1"/>
<line x1="540.6" y1="764.1" x2="567.3" y2="816.6" stroke="#ede2b8" stroke-width="1"/>
<line x1="531.5" y1="765.1" x2="551.8" y2="818.5" stroke="#ede2b8" stroke-width="1"/>
<line x1="522.3" y1="765.8" x2="536.0" y2="819.6" stroke="#ede2b8" stroke-width="1"/>
<line x1="513.0" y1="766.0" x2="520.0" y2="820.0" stroke="#ede2b8" stroke-width="1"/>
<line x1="503.7" y1="765.8" x2="504.0" y2="819.6" stroke="#ede2b8" stroke-width="1"/>
<line x1="494.5" y1="765.1" x2="488.2" y2="818.5" stroke="#ede2b8" stroke-width="1"/>
<line x1="485.4" y1="764.1" x2="472.7" y2="816.6" stroke="#ede2b8" stroke-width="1"/>
<line x1="476.6" y1="762.6" x2="457.6" y2="813.9" stroke="#ede2b8" stroke-width="1"/>
<line x1="468.2" y1="760.7" x2="443.2" y2="810.6" stroke="#ede2b8" stroke-width="1"/>
<line x1="460.2" y1="758.4" x2="429.4" y2="806.5" stroke="#ede2b8" stroke-width="1"/>
<line x1="452.7" y1="755.8" x2="416.6" y2="801.8" stroke="#ede2b8" stroke-width="1"/>
<line x1="445.8" y1="752.8" x2="404.7" y2="796.6" stroke="#ede2b8" stroke-width="1"/>
<line x1="439.6" y1="749.5" x2="394.0" y2="790.8" stroke="#ede2b8" stroke-width="1"/>
<line x1="434.0" y1="746.0" x2="384.5" y2="784.4" stroke="#ede2b8" stroke-width="1"/>
<line x1="429.2" y1="742.2" x2="376.2" y2="777.7" stroke="#ede2b8" stroke-width="1"/>
<line x1="425.2" y1="738.2" x2="369.4" y2="770.6" stroke="#ede2b8" stroke-width="1"/>
<line x1="422.1" y1="734.1" x2="364.0" y2="763.2" stroke="#ede2b8" stroke-width="1"/>
<line x1="419.8" y1="729.8" x2="360.1" y2="755.6" stroke="#ede2b8" stroke-width="1"/>
<line x1="418.5" y1="725.4" x2="357.8" y2="747.8" stroke="#ede2b8" stroke-width="1"/>
<line x1="418.0" y1="721.0" x2="357.0" y2="740.0" stroke="#ede2b8" stroke-width="1"/>
<line x1="418.5" y1="716.6" x2="357.8" y2="732.2" stroke="#ede2b8" stroke-width="1"/>
<line x1="419.8" y1="712.2" x2="360.1" y2="724.4" stroke="#ede2b8" stroke-width="1"/>
<line x1="422.1" y1="707.9" x2="364.0" y2="716.8" stroke="#ede2b8" stroke-width="1"/>
<line x1="425.2" y1="703.8" x2="369.4" y2="709.4" stroke="#ede2b8" stroke-width="1"/>
<line x1="429.2" y1="699.8" x2="376.2" y2="702.3" stroke="#ede2b8" stroke-width="1"/>
<line x1="434.0" y1="696.0" x2="384.5" y2="695.6" stroke="#ede2b8" stroke-width="1"/>
<line x1="439.6" y1="692.5" x2="394.0" y2="689.2" stroke="#ede2b8" stroke-width="1"/>
<line x1="445.8" y1="689.2" x2="404.7" y2="683.4" stroke="#ede2b8" stroke-width="1"/>
<line x1="452.7" y1="686.2" x2="416.6" y2="678.2" stroke="#ede2b8" stroke-width="1"/>
<line x1="460.2" y1="683.6" x2="429.4" y2="673.5" stroke="#ede2b8" stroke-width="1"/>
<line x1="468.2" y1="681.3" x2="443.2" y2="669.4" stroke="#ede2b8" stroke-width="1"/>
<line x1="476.6" y1="679.4" x2="457.6" y2="666.1" stroke="#ede2b8" stroke-width="1"/>
<line x1="485.4" y1="677.9" x2="472.7" y2="663.4" stroke="#ede2b8" stroke-width="1"/>
<line x1="494.5" y1="676.9" x2="488.2" y2="661.5" stroke="#ede2b8" stroke-width="1"/>
<line x1="503.7" y1="676.2" x2="504.0" y2="660.4" stroke="#ede2b8" stroke-width="1"/>
<line x1="513.0" y1="676.0" x2="520.0" y2="660.0" stroke="#ede2b8" stroke-width="1"/>
<line x1="522.3" y1="676.2" x2="536.0" y2="660.4" stroke="#ede2b8" stroke-width="1"/>
<line x1="531.5" y1="676.9" x2="551.8" y2="661.5" stroke="#ede2b8" stroke-width="1"/>
<line x1="540.6" y1="677.9" x2="567.3" y2="663.4" stroke="#ede2b8" stroke-width="1"/>
<line x1="549.4" y1="679.4" x2="582.4" y2="666.1" stroke="#ede2b8" stroke-width="1"/>
<line x1="557.8" y1="681.3" x2="596.8" y2="669.4" stroke="#ede2b8" stroke-width="1"/>
<line x1="565.8" y1="683.6" x2="610.6" y2="673.5" stroke="#ede2b8" stroke-width="1"/>
<line x1="573.3" y1="686.2" x2="623.4" y2="678.2" stroke="#ede2b8" stroke-width="1"/>
<line x1="580.2" y1="689.2" x2="635.3" y2="683.4" stroke="#ede2b8" stroke-width="1"/>
<line x1="586.4" y1="692.5" x2="646.0" y2="689.2" stroke="#ede2b8" stroke-width="1"/>
<line x1="592.0" y1="696.0" x2="655.5" y2="695.6" stroke="#ede2b8" stroke-width="1"/>
<line x1="596.8" y1="699.8" x2="663.8" y2="702.3" stroke="#ede2b8" stroke-width="1"/>
<line x1="600.8" y1="703.8" x2="670.6" y2="709.4" stroke="#ede2b8" stroke-width="1"/>
<line x1="603.9" y1="707.9" x2="676.0" y2="716.8" stroke="#ede2b8" stroke-width="1"/>
<line x1="606.2" y1="712.2" x2="679.9" y2="724.4" stroke="#ede2b8" stroke-width="1"/>
<line x1="607.5" y1="716.6" x2="682.2" y2="732.2" stroke="#ede2b8" stroke-width="1"/>
<ellipse cx="513" cy="721" rx="84" ry="36" fill="#fdfcf7"/>
</g>
<g class="tbl">
<line x1="45.9" y1="335.60" x2="676.3000000000001" y2="335.60"/>
<line x1="45.9" y1="356.88" x2="676.3000000000001" y2="356.88"/>
<line x1="45.9" y1="378.16" x2="676.3000000000001" y2="378.16"/>
<line x1="45.9" y1="399.44" x2="676.3000000000001" y2="399.44"/>
<line x1="45.9" y1="420.72" x2="676.3000000000001" y2="420.72"/>
<line x1="45.9" y1="442.00" x2="676.3000000000001" y2="442.00"/>
<line x1="45.9" y1="463.28" x2="676.3000000000001" y2="463.28"/>
<line x1="45.9" y1="484.56" x2="676.3000000000001" y2="484.56"/>
<line x1="45.9" y1="505.84" x2="676.3000000000001" y2="505.84"/>
<line x1="45.9" y1="527.12" x2="676.3000000000001" y2="527.12"/>
<line x1="45.9" y1="548.40" x2="676.3000000000001" y2="548.40"/>
<line x1="45.9" y1="569.68" x2="676.3000000000001" y2="569.68"/>
<line x1="45.9" y1="590.96" x2="676.3000000000001" y2="590.96"/>
<line x1="45.9" y1="612.24" x2="676.3000000000001" y2="612.24"/>
<line x1="45.9" y1="633.52" x2="676.3000000000001" y2="633.52"/>
<line x1="45.9" y1="654.80" x2="676.3000000000001" y2="654.80"/>
<line x1="45.9" y1="676.08" x2="676.3000000000001" y2="676.08"/>
<line x1="45.9" y1="697.36" x2="676.3000000000001" y2="697.36"/>
<line x1="45.9" y1="718.64" x2="676.3000000000001" y2="718.64"/>
<line x1="45.9" y1="739.92" x2="676.3000000000001" y2="739.92"/>
<line x1="45.9" y1="761.20" x2="676.3000000000001" y2="761.20"/>
<line x1="45.9" y1="782.48" x2="676.3000000000001" y2="782.48"/>
<line x1="45.9" y1="803.76" x2="676.3000000000001" y2="803.76"/>
<line x1="45.9" y1="825.04" x2="676.3000000000001" y2="825.04"/>
<line x1="45.9" y1="846.32" x2="676.3000000000001" y2="846.32"/>
<line x1="45.9" y1="867.60" x2="676.3000000000001" y2="867.60"/>
<line x1="45.9" y1="888.88" x2="676.3000000000001" y2="888.88"/>
<line x1="46.6" y1="334.90" x2="46.6" y2="889.58"/>
<line x1="183" y1="334.90" x2="183" y2="889.58"/>
<line x1="285.4" y1="334.90" x2="285.4" y2="889.58"/>
<line x1="371.5" y1="334.90" x2="371.5" y2="889.58"/>
<line x1="443" y1="334.90" x2="443" y2="889.58"/>
<line x1="515.2" y1="334.90" x2="515.2" y2="889.58"/>
<line x1="587" y1="334.90" x2="587" y2="889.58"/>
<line x1="675.6" y1="334.90" x2="675.6" y2="889.58"/>
<text x="113.60" y="352.20" textLength="72.4" lengthAdjust="spacingAndGlyphs">TAMANHO</text>
<text x="234.20" y="352.20">d</text>
<text x="328.45" y="352.20">D</text>
<text x="407.25" y="352.20">S</text>
<text x="477.60" y="352.20" textLength="41.4" lengthAdjust="spacingAndGlyphs">h Min.</text>
<text x="551.20" y="352.20" textLength="45" lengthAdjust="spacingAndGlyphs">h Max.</text>
<text x="623.90" y="352.20" textLength="57.6" lengthAdjust="spacingAndGlyphs">Kg /1000</text>
<text x="114.80" y="394.76">M 3</text>
<text x="234.20" y="394.76">3,1</text>
<text x="328.45" y="394.76">6</text>
<text x="407.25" y="394.76">0,50</text>
<text x="479.10" y="394.76">0,90</text>
<text x="551.10" y="394.76">0,70</text>
<text x="631.30" y="394.76">0,08</text>
<text x="114.80" y="416.04">M 3</text>
<text x="234.20" y="416.04">3,1</text>
<text x="328.45" y="416.04">8</text>
<text x="407.25" y="416.04">0,60</text>
<text x="479.10" y="416.04">1,00</text>
<text x="551.10" y="416.04">0,80</text>
<text x="631.30" y="416.04">0,20</text>
<text x="114.80" y="437.32">M 3</text>
<text x="234.20" y="437.32">3,1</text>
<text x="328.45" y="437.32">10</text>
<text x="407.25" y="437.32">0,60</text>
<text x="479.10" y="437.32">1,20</text>
<text x="551.10" y="437.32">0,95</text>
<text x="631.30" y="437.32">0,33</text>
<text x="114.80" y="458.60">M 4</text>
<text x="234.20" y="458.60">4,1</text>
<text x="328.45" y="458.60">8</text>
<text x="407.25" y="458.60">1,20</text>
<text x="479.10" y="458.60">1,20</text>
<text x="551.10" y="458.60">1,00</text>
<text x="631.30" y="458.60">0,23</text>
<text x="114.80" y="479.88">M 4</text>
<text x="234.20" y="479.88">4,1</text>
<text x="328.45" y="479.88">10</text>
<text x="407.25" y="479.88">1,40</text>
<text x="479.10" y="479.88">1,40</text>
<text x="551.10" y="479.88">1,15</text>
<text x="631.30" y="479.88">0,46</text>
<text x="114.80" y="501.16">M 4</text>
<text x="234.20" y="501.16">4,1</text>
<text x="328.45" y="501.16">14</text>
<text x="407.25" y="501.16">1,80</text>
<text x="479.10" y="501.16">1,80</text>
<text x="551.10" y="501.16">1,40</text>
<text x="631.30" y="501.16">1,10</text>
<text x="114.80" y="522.44">M 5</text>
<text x="234.20" y="522.44">5,1</text>
<text x="328.45" y="522.44">10</text>
<text x="407.25" y="522.44">1,00</text>
<text x="479.10" y="522.44">1,50</text>
<text x="551.10" y="522.44">1,25</text>
<text x="631.30" y="522.44">0,46</text>
<text x="114.80" y="543.72">M 5</text>
<text x="234.20" y="543.72">5,1</text>
<text x="328.45" y="543.72">12</text>
<text x="407.25" y="543.72">1,10</text>
<text x="479.10" y="543.72">1,80</text>
<text x="551.10" y="543.72">1,45</text>
<text x="631.30" y="543.72">0,80</text>
<text x="114.80" y="565.00">M 5</text>
<text x="234.20" y="565.00">5,1</text>
<text x="328.45" y="565.00">16</text>
<text x="407.25" y="565.00">1,20</text>
<text x="479.10" y="565.00">2,10</text>
<text x="551.10" y="565.00">1,70</text>
<text x="631.30" y="565.00">1,70</text>
<text x="114.80" y="586.28">M 6</text>
<text x="234.20" y="586.28">6,1</text>
<text x="328.45" y="586.28">12</text>
<text x="407.25" y="586.28">1,20</text>
<text x="479.10" y="586.28">1,85</text>
<text x="551.10" y="586.28">1,55</text>
<text x="631.30" y="586.28">0,79</text>
<text x="114.80" y="607.56">M 6</text>
<text x="234.20" y="607.56">6,1</text>
<text x="328.45" y="607.56">14</text>
<text x="407.25" y="607.56">1,30</text>
<text x="479.10" y="607.56">2,10</text>
<text x="551.10" y="607.56">1,75</text>
<text x="631.30" y="607.56">1,27</text>
<text x="114.80" y="628.84">M 6</text>
<text x="234.20" y="628.84">6,1</text>
<text x="328.45" y="628.84">18</text>
<text x="407.25" y="628.84">1,40</text>
<text x="479.10" y="628.84">2,50</text>
<text x="551.10" y="628.84">2,10</text>
<text x="631.30" y="628.84">2,48</text>
<text x="114.80" y="650.12">M 8</text>
<text x="234.20" y="650.12">8,2</text>
<text x="328.45" y="650.12">16</text>
<text x="407.25" y="650.12">1,40</text>
<text x="479.10" y="650.12">2,20</text>
<text x="551.10" y="650.12">1,80</text>
<text x="631.30" y="650.12">1,63</text>
<text x="114.80" y="671.40">M 8</text>
<text x="234.20" y="671.40">8,2</text>
<text x="328.45" y="671.40">18</text>
<text x="407.25" y="671.40">1,40</text>
<text x="479.10" y="671.40">2,35</text>
<text x="551.10" y="671.40">1,90</text>
<text x="631.30" y="671.40">2,22</text>
<text x="114.80" y="692.68">M 8</text>
<text x="234.20" y="692.68">8,2</text>
<text x="328.45" y="692.68">22</text>
<text x="407.25" y="692.68">1,60</text>
<text x="479.10" y="692.68">2,70</text>
<text x="551.10" y="692.68">2,20</text>
<text x="631.30" y="692.68">4,11</text>
<text x="114.80" y="713.96">M 10</text>
<text x="234.20" y="713.96">10,2</text>
<text x="328.45" y="713.96">20</text>
<text x="407.25" y="713.96">1,60</text>
<text x="479.10" y="713.96">2,60</text>
<text x="551.10" y="713.96">2,10</text>
<text x="631.30" y="713.96">2,90</text>
<text x="114.80" y="735.24">M 10</text>
<text x="234.20" y="735.24">10,2</text>
<text x="328.45" y="735.24">22</text>
<text x="407.25" y="735.24">1,60</text>
<text x="479.10" y="735.24">2,75</text>
<text x="551.10" y="735.24">2,25</text>
<text x="631.30" y="735.24">3,75</text>
<text x="114.80" y="756.52">M 10</text>
<text x="234.20" y="756.52">10,2</text>
<text x="328.45" y="756.52">27</text>
<text x="407.25" y="756.52">1,80</text>
<text x="479.10" y="756.52">3,10</text>
<text x="551.10" y="756.52">2,60</text>
<text x="631.30" y="756.52">6,90</text>
<text x="114.80" y="777.80">M 12</text>
<text x="234.20" y="777.80">12,4</text>
<text x="328.45" y="777.80">24</text>
<text x="407.25" y="777.80">1,80</text>
<text x="479.10" y="777.80">2,90</text>
<text x="551.10" y="777.80">2,40</text>
<text x="631.30" y="777.80">4,69</text>
<text x="114.80" y="799.08">M 12</text>
<text x="234.20" y="799.08">12,4</text>
<text x="328.45" y="799.08">27</text>
<text x="407.25" y="799.08">1,80</text>
<text x="479.10" y="799.08">3,10</text>
<text x="551.10" y="799.08">2,60</text>
<text x="631.30" y="799.08">6,34</text>
<text x="114.80" y="820.36">M 12</text>
<text x="234.20" y="820.36">12,4</text>
<text x="328.45" y="820.36">32</text>
<text x="407.25" y="820.36">2,00</text>
<text x="479.10" y="820.36">3,60</text>
<text x="551.10" y="820.36">3,10</text>
<text x="631.30" y="820.36">10,65</text>
<text x="114.80" y="841.64">M 14</text>
<text x="234.20" y="841.64">14,4</text>
<text x="328.45" y="841.64">30</text>
<text x="407.25" y="841.64">2,40</text>
<text x="479.10" y="841.64">3,70</text>
<text x="551.10" y="841.64">3,20</text>
<text x="631.30" y="841.64">10,18</text>
<text x="114.80" y="862.92">M 16</text>
<text x="234.20" y="862.92">16,4</text>
<text x="328.45" y="862.92">32</text>
<text x="407.25" y="862.92">2,80</text>
<text x="479.10" y="862.92">4,10</text>
<text x="551.10" y="862.92">3,60</text>
<text x="631.30" y="862.92">12,95</text>
<text x="114.80" y="884.20">M 20</text>
<text x="234.20" y="884.20">20,5</text>
<text x="328.45" y="884.20">40</text>
<text x="407.25" y="884.20">3,20</text>
<text x="479.10" y="884.20">4,30</text>
<text x="551.10" y="884.20">4,90</text>
<text x="631.30" y="884.20">23,12</text>
</g>
<text x="183.30" y="314.20" font-family="Liberation Sans, Arial, sans-serif" font-size="23.6" fill="#1a1a1a" font-weight="bold" textLength="330.00" lengthAdjust="spacingAndGlyphs">MEDIDAS DIMENSIONAIS EM MM</text>
<rect x="538.5" y="285.3" width="176.7" height="39.6" rx="19.8" fill="#3d2651"/>
<text x="547.20" y="317.40" font-family="Liberation Sans, Arial, sans-serif" font-size="31" fill="#ffffff" font-weight="bold" textLength="157.50" lengthAdjust="spacingAndGlyphs">NFE 25-511</text>
<rect x="10" y="903.3" width="37.5" height="7" fill="#8b8598"/>
<rect x="11.7" y="932.3" width="37" height="7.4" fill="#155f98"/>
<rect x="11" y="959" width="37" height="7" fill="#b6badb"/>
<rect x="10.4" y="988.3" width="37.6" height="7.3" fill="#1d3a60"/>
<text x="51.30" y="910.70" font-family="Liberation Sans, Arial, sans-serif" font-size="11.9" fill="#222" textLength="74.20" lengthAdjust="spacingAndGlyphs">Serie / Classe</text>
<text x="52.20" y="940.10" font-family="Liberation Sans, Arial, sans-serif" font-size="11.9" fill="#222" textLength="104.60" lengthAdjust="spacingAndGlyphs">Dimensões da Mola</text>
<text x="50.80" y="966.60" font-family="Liberation Sans, Arial, sans-serif" font-size="11.9" fill="#222" textLength="91.60" lengthAdjust="spacingAndGlyphs">Dados Adicionais</text>
<text x="50.80" y="996.10" font-family="Liberation Sans, Arial, sans-serif" font-size="11.9" fill="#222" textLength="96.40" lengthAdjust="spacingAndGlyphs">Kg por 1.000 peso</text>
<rect x="158.7" y="900.5" width="554" height="112.8" fill="none" stroke="#707070" stroke-width="1.1"/>
<text x="166.30" y="912.60" font-family="Liberation Sans, Arial, sans-serif" font-size="10.8" fill="#c1504c" textLength="118.50" lengthAdjust="spacingAndGlyphs">Processo de Fabricação</text>
<text x="287.20" y="912.60" font-family="Liberation Sans, Arial, sans-serif" font-size="10.8" fill="#c1504c">-</text>
<text x="294.30" y="912.60" font-family="Liberation Sans, Arial, sans-serif" font-size="10.8" fill="#161616" font-weight="bold" font-style="italic" textLength="59.00" lengthAdjust="spacingAndGlyphs">Estampado</text>
<text x="166.30" y="936.10" font-family="Liberation Sans, Arial, sans-serif" font-size="10.8" fill="#c1504c" textLength="38.50" lengthAdjust="spacingAndGlyphs">Material</text>
<text x="207.80" y="936.10" font-family="Liberation Sans, Arial, sans-serif" font-size="10.8" fill="#c1504c">-</text>
<text x="214.50" y="936.10" font-family="Liberation Sans, Arial, sans-serif" font-size="10.8" fill="#161616" font-weight="bold" font-style="italic" textLength="141.50" lengthAdjust="spacingAndGlyphs">Aço SAE 1070 / 6150 CK 67</text>
<text x="166.30" y="956.60" font-family="Liberation Sans, Arial, sans-serif" font-size="10.8" fill="#c1504c" textLength="42.50" lengthAdjust="spacingAndGlyphs">Dureza -</text>
<text x="214.20" y="956.60" font-family="Liberation Sans, Arial, sans-serif" font-size="10.8" fill="#161616" font-weight="bold" font-style="italic" textLength="63.60" lengthAdjust="spacingAndGlyphs">42 a 52 HRC</text>
<text x="166.30" y="981.40" font-family="Liberation Sans, Arial, sans-serif" font-size="10.8" fill="#c1504c" textLength="66.50" lengthAdjust="spacingAndGlyphs">Acabamentos</text>
<text x="235.60" y="981.40" font-family="Liberation Sans, Arial, sans-serif" font-size="10.8" fill="#c1504c">-</text>
<text x="241.00" y="981.40" font-family="Liberation Sans, Arial, sans-serif" font-size="10.8" fill="#161616" font-weight="bold" font-style="italic" textLength="256.80" lengthAdjust="spacingAndGlyphs">Oxidado / Fosfatizado / Zincado / Organometálico</text>
<text x="237.00" y="1008.60" font-family="Liberation Sans, Arial, sans-serif" font-size="12.3" fill="#c43a36" font-weight="bold" font-style="italic" textLength="397.00" lengthAdjust="spacingAndGlyphs">*Obs: Reservamos o Direito de Qualquer Alteração sem Prévio Aviso</text>
<text x="450.00" y="928.50" font-family="Liberation Sans, Arial, sans-serif" font-size="14.3" fill="#c43a36" font-weight="bold" textLength="211.50" lengthAdjust="spacingAndGlyphs">Norma NFE 25-511 Com Dente</text>
<text x="448.50" y="953.40" font-family="Liberation Sans, Arial, sans-serif" font-size="14.8" fill="#c43a36" font-weight="bold" textLength="66.50" lengthAdjust="spacingAndGlyphs">Aço Inox:</text>
<text x="518.00" y="953.20" font-family="Liberation Sans, Arial, sans-serif" font-size="12" fill="#1e1e1e" textLength="186.00" lengthAdjust="spacingAndGlyphs">Molas em Aço Inox Série 300 e 400</text>
<text x="553.20" y="973.80" font-family="Liberation Sans, Arial, sans-serif" font-size="12" fill="#1e1e1e" textLength="109.60" lengthAdjust="spacingAndGlyphs">Inox 304 / 316 / 430</text>
</svg>
</body></html>
